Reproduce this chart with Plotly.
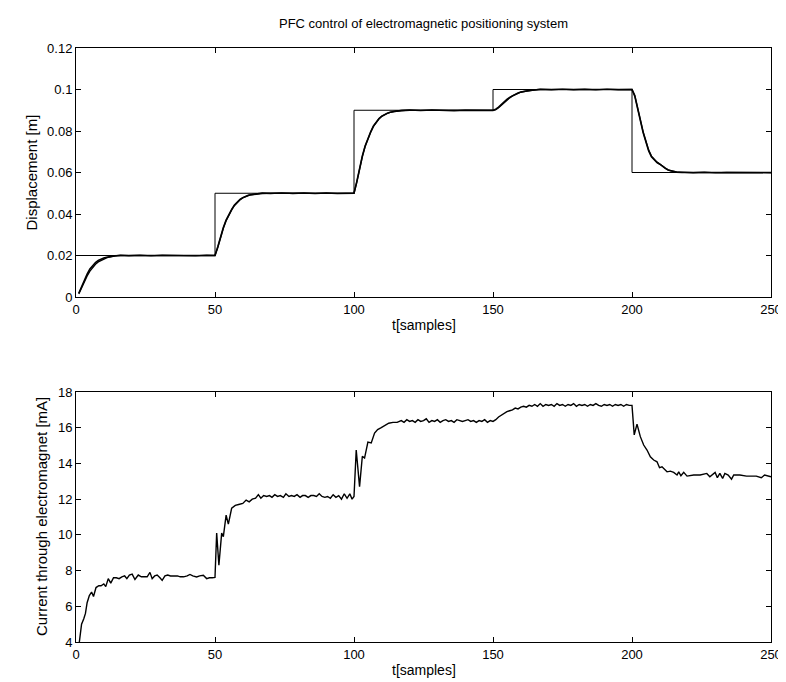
import plotly.graph_objects as go

# ---------------- data ----------------
# set-point (reference) steps
sp_t = [0, 50, 100, 150, 200, 250]
sp_val = [0.02, 0.05, 0.09, 0.10, 0.06, 0.06]

# model output (smooth)
model_t = [1, 2, 3, 4, 5, 6, 7, 8, 9, 10, 11, 12, 13, 14, 16, 20,
           50, 51, 52, 53, 54, 55, 56, 57, 58, 59, 60, 61, 62, 63, 64, 65, 67, 70,
           100, 101, 102, 103, 104, 105, 106, 107, 108, 109, 110, 111, 112, 113, 114, 115, 117, 120,
           150, 151, 152, 153, 154, 155, 156, 157, 158, 159, 160, 162, 164, 167,
           200, 201, 202, 203, 204, 205, 206, 207, 208, 209, 210, 211, 212, 213, 214, 216, 218, 222, 250]
model_y = [0.0018, 0.0050, 0.0082, 0.0110, 0.0135, 0.0153, 0.0166, 0.0176, 0.0183, 0.0188, 0.0192, 0.0195, 0.0197, 0.0198, 0.0200, 0.0200,
           0.0200, 0.0242, 0.0290, 0.0335, 0.0371, 0.0398, 0.0422, 0.0443, 0.0458, 0.0470, 0.0479, 0.0485, 0.0490, 0.0493, 0.0495, 0.0497, 0.0499, 0.0500,
           0.0500, 0.0556, 0.0620, 0.0680, 0.0728, 0.0764, 0.0796, 0.0824, 0.0844, 0.0860, 0.0872, 0.0880, 0.0886, 0.0890, 0.0893, 0.0896, 0.0898, 0.0900,
           0.0900, 0.0905, 0.0915, 0.0928, 0.0940, 0.0952, 0.0962, 0.0970, 0.0977, 0.0983, 0.0988, 0.0994, 0.0997, 0.1000,
           0.1000, 0.0968, 0.0904, 0.0840, 0.0792, 0.0748, 0.0704, 0.0676, 0.0660, 0.0648, 0.0640, 0.0628, 0.0620, 0.0612, 0.0608, 0.0602, 0.0600, 0.0600, 0.0600]

# process output (measured, slightly noisy)
proc_t = [1, 2, 3, 4, 5, 6, 7, 8, 9, 10, 11, 12, 13, 14, 16, 19, 23, 27, 31, 35, 39, 43, 47, 49,
          50, 51, 52, 53, 54, 55, 56, 57, 58, 59, 60, 61, 62, 63, 64, 65, 67, 70, 74, 78, 82, 86, 90, 94, 97, 99,
          100, 101, 102, 103, 104, 105, 106, 107, 108, 109, 110, 111, 112, 113, 114, 115, 117, 120, 124, 128, 132, 136, 140, 144, 148,
          150, 151, 152, 153, 154, 155, 156, 157, 158, 159, 160, 162, 164, 167, 171, 175, 179, 183, 187, 191, 195, 198,
          200, 201, 202, 203, 204, 205, 206, 207, 208, 209, 210, 211, 212, 213, 214, 216, 218, 222, 226, 230, 234, 238, 242, 246, 250]
proc_y = [0.0015, 0.0045, 0.0075, 0.0102, 0.0125, 0.0144, 0.0158, 0.0169, 0.0177, 0.0184, 0.0189, 0.0193, 0.0196, 0.0198, 0.0201, 0.0199, 0.0201, 0.0198, 0.0201, 0.0199, 0.0200, 0.0198, 0.0201, 0.0199,
          0.0200, 0.0238, 0.0286, 0.0331, 0.0368, 0.0396, 0.0420, 0.0441, 0.0457, 0.0469, 0.0478, 0.0485, 0.0489, 0.0493, 0.0495, 0.0497, 0.0501, 0.0499, 0.0502, 0.0499, 0.0501, 0.0498, 0.0501, 0.0498, 0.0500, 0.0499,
          0.0500, 0.0552, 0.0616, 0.0676, 0.0725, 0.0762, 0.0794, 0.0822, 0.0843, 0.0859, 0.0871, 0.0879, 0.0885, 0.0890, 0.0893, 0.0896, 0.0899, 0.0901, 0.0898, 0.0901, 0.0899, 0.0897, 0.0900, 0.0898, 0.0899,
          0.0899, 0.0903, 0.0912, 0.0925, 0.0938, 0.0950, 0.0960, 0.0969, 0.0976, 0.0982, 0.0987, 0.0993, 0.0997, 0.1001, 0.0999, 0.1002, 0.0999, 0.1001, 0.0998, 0.1002, 0.0999, 0.1000,
          0.1000, 0.0972, 0.0910, 0.0846, 0.0797, 0.0752, 0.0708, 0.0679, 0.0662, 0.0650, 0.0641, 0.0630, 0.0621, 0.0613, 0.0608, 0.0603, 0.0601, 0.0599, 0.0601, 0.0598, 0.0600, 0.0599, 0.0600, 0.0598, 0.0599]

# current through electromagnet [mA]
cur_t = [1.2, 2.0, 2.8, 3.4, 4.0, 4.8, 5.6, 6.3, 7.2, 8.2, 9.0, 10.0, 10.7, 11.6, 12.5, 13.5, 14.5, 15.5, 16.5, 17.5,
         18.3, 19.2, 20.2, 21.2, 22.4, 23.5, 24.5, 25.6, 26.6, 27.4, 28.3, 29.2, 30.2, 31.0, 32.0, 33.0, 34.0, 35.0, 36.5, 37.5,
         38.7, 40.0, 41.0, 42.0, 43.4, 44.5, 45.8, 47.0, 48.0, 49.0, 50.0, 50.6, 51.4, 52.4, 53.0, 54.0, 54.8, 56.0, 57.3, 58.5,
         60.0, 61.2, 62.3, 63.4, 64.6, 65.6, 66.5, 67.5, 68.6, 69.6, 70.5, 71.5, 72.5, 73.5, 74.6, 75.5, 76.6, 77.5, 78.5, 79.5,
         80.6, 81.5, 82.5, 83.5, 84.5, 85.5, 86.5, 87.5, 88.5, 89.5, 90.5, 91.5, 92.5, 93.5, 94.5, 95.5, 96.5, 97.5, 98.5, 99.3,
         100.0, 100.8, 102.0, 103.0, 103.8, 105.0, 106.2, 107.4, 108.5, 109.8, 111.0, 112.5, 114.0, 115.5, 117, 118, 119, 120, 121, 122,
         123, 124, 125, 126, 127, 128, 129, 130, 131, 132, 133, 134, 135, 136, 137, 138, 139, 140, 141, 142,
         143, 144, 145, 146, 147, 148, 149, 150, 151, 152, 153, 154, 155, 156, 157, 158, 159, 160, 161, 162,
         163, 164, 165, 166, 167, 168, 169, 170, 171, 172, 173, 174, 175, 176, 177, 178, 179, 180, 181, 182,
         183, 184, 185, 186, 187, 188, 189, 190, 191, 192, 193, 194, 195, 196, 197, 198, 199, 200, 200.8, 201.8,
         203.0, 204.2, 205.4, 206.6, 207.8, 209.0, 209.9, 210.8, 212.6, 213.8, 215.0, 216.2, 216.8, 217.6, 218.6, 219.8, 222.2, 224.5, 226.9, 228.0,
         229.9, 230.7, 231.6, 232.6, 233.4, 234.6, 235.8, 236.6, 238.8, 241.2, 244.7, 246.5, 247.7, 250.0]
cur_val = [4.0, 5.0, 5.3, 5.6, 6.2, 6.6, 6.8, 6.55, 7.05, 7.15, 7.15, 7.25, 7.1, 7.55, 7.3, 7.6, 7.6, 7.55, 7.65, 7.7,
           7.55, 7.75, 7.8, 7.5, 7.75, 7.65, 7.65, 7.65, 7.9, 7.55, 7.7, 7.75, 7.6, 7.45, 7.7, 7.75, 7.7, 7.7, 7.7, 7.65,
           7.65, 7.7, 7.78, 7.7, 7.64, 7.7, 7.74, 7.55, 7.6, 7.6, 7.62, 10.1, 8.3, 10.1, 9.9, 11.1, 10.6, 11.5, 11.65, 11.7,
           11.76, 11.95, 11.85, 12.0, 12.05, 12.25, 12.05, 12.2, 12.15, 12.2, 12.1, 12.25, 12.15, 12.2, 12.1, 12.3, 12.15, 12.2, 12.15, 12.25,
           12.1, 12.2, 12.2, 12.1, 12.2, 12.2, 12.15, 12.3, 12.15, 12.1, 12.15, 12.05, 12.25, 12.1, 12.2, 12.0, 12.3, 12.05, 12.3, 12.0,
           12.15, 14.75, 12.7, 14.4, 14.3, 15.2, 15.15, 15.7, 15.9, 16.0, 16.1, 16.25, 16.3, 16.3, 16.4, 16.3, 16.45, 16.35, 16.4, 16.3,
           16.45, 16.35, 16.4, 16.5, 16.3, 16.4, 16.35, 16.45, 16.3, 16.4, 16.45, 16.35, 16.4, 16.3, 16.45, 16.4, 16.35, 16.4, 16.45, 16.35,
           16.4, 16.3, 16.4, 16.35, 16.45, 16.3, 16.4, 16.35, 16.45, 16.6, 16.7, 16.8, 16.9, 16.95, 17.0, 17.1, 17.05, 17.15, 17.2, 17.15,
           17.25, 17.2, 17.3, 17.2, 17.35, 17.2, 17.3, 17.25, 17.3, 17.2, 17.35, 17.25, 17.3, 17.2, 17.3, 17.25, 17.35, 17.2, 17.3, 17.25,
           17.3, 17.2, 17.3, 17.25, 17.35, 17.25, 17.2, 17.3, 17.25, 17.3, 17.2, 17.3, 17.25, 17.3, 17.2, 17.3, 17.25, 17.25, 15.6, 16.2,
           15.5, 15.03, 14.75, 14.37, 14.19, 14.09, 13.76, 13.81, 13.53, 13.57, 13.5, 13.35, 13.53, 13.31, 13.5, 13.29, 13.35, 13.35, 13.44, 13.25,
           13.5, 13.2, 13.44, 13.16, 13.44, 13.35, 13.12, 13.35, 13.35, 13.29, 13.29, 13.2, 13.35, 13.25]

x_ticks = [0, 50, 100, 150, 200, 250]
disp_ticks = [0, 0.02, 0.04, 0.06, 0.08, 0.1, 0.12]
disp_tick_text = ["0", "0.02", "0.04", "0.06", "0.08", "0.1", "0.12"]
cur_ticks = [4, 6, 8, 10, 12, 14, 16, 18]

title_text = "PFC control of electromagnetic positioning system"
xlabel_text = "t[samples]"
ylabel_top = "Displacement [m]"
ylabel_bottom = "Current through electromagnet [mA]"

# ---------------- figure ----------------
W, H = 786, 682
ML, MR, MT, MB = 68, 18, 40, 48
PH = H - MT - MB
top_bottom_px = 289
bot_top_px = 384
top_dom = [(H - MB - top_bottom_px) / PH, 1.0]
bot_dom = [0.0, (H - MB - bot_top_px) / PH]

FONT = "Liberation Sans, Arial, Helvetica, sans-serif"

fig = go.Figure()
fig.add_trace(go.Scatter(x=sp_t, y=sp_val, mode="lines", line=dict(color="black", width=1, shape="hv"),
                         xaxis="x", yaxis="y", showlegend=False))
fig.add_trace(go.Scatter(x=model_t, y=model_y, mode="lines", line=dict(color="black", width=1.6),
                         xaxis="x", yaxis="y", showlegend=False))
fig.add_trace(go.Scatter(x=proc_t, y=proc_y, mode="lines", line=dict(color="black", width=1.4),
                         xaxis="x", yaxis="y", showlegend=False))
fig.add_trace(go.Scatter(x=cur_t, y=cur_val, mode="lines", line=dict(color="black", width=1.4),
                         xaxis="x2", yaxis="y2", showlegend=False))

axis_common = dict(showgrid=False, zeroline=False, showline=True, linecolor="black", linewidth=1,
                   mirror="ticks", ticks="inside", ticklen=5, tickcolor="black", tickwidth=1,
                   tickfont=dict(family=FONT, size=13, color="black"))

fig.update_layout(
    width=W, height=H,
    margin=dict(l=ML, r=MR, t=MT, b=MB),
    paper_bgcolor="white", plot_bgcolor="white",
    xaxis=dict(domain=[0, 1], range=[0, 250], tickvals=x_ticks, anchor="y", **axis_common),
    yaxis=dict(domain=top_dom, range=[0, 0.12], tickvals=disp_ticks, ticktext=disp_tick_text, anchor="x", **axis_common),
    xaxis2=dict(domain=[0, 1], range=[0, 250], tickvals=x_ticks, anchor="y2", **axis_common),
    yaxis2=dict(domain=bot_dom, range=[4, 18], tickvals=cur_ticks, anchor="x2", **axis_common),
    annotations=[
        dict(text=title_text, xref="paper", yref="paper", x=0.5, xanchor="center", y=1, yanchor="middle", yshift=25,
             showarrow=False, font=dict(family=FONT, size=13, color="black")),
        dict(text=xlabel_text, xref="paper", yref="paper", x=0.5, xanchor="center", y=top_dom[0], yanchor="middle", yshift=-28,
             showarrow=False, font=dict(family=FONT, size=14, color="black")),
        dict(text=xlabel_text, xref="paper", yref="paper", x=0.5, xanchor="center", y=bot_dom[0], yanchor="middle", yshift=-28,
             showarrow=False, font=dict(family=FONT, size=14, color="black")),
        dict(text=ylabel_top, xref="paper", yref="paper", x=0, xanchor="center", xshift=-45,
             y=(top_dom[0] + top_dom[1]) / 2, yanchor="middle",
             textangle=-90, showarrow=False, font=dict(family=FONT, size=15, color="black")),
        dict(text=ylabel_bottom, xref="paper", yref="paper", x=0, xanchor="center", xshift=-35,
             y=(bot_dom[0] + bot_dom[1]) / 2, yanchor="middle",
             textangle=-90, showarrow=False, font=dict(family=FONT, size=15, color="black")),
    ],
)

fig.write_html("out.html")
